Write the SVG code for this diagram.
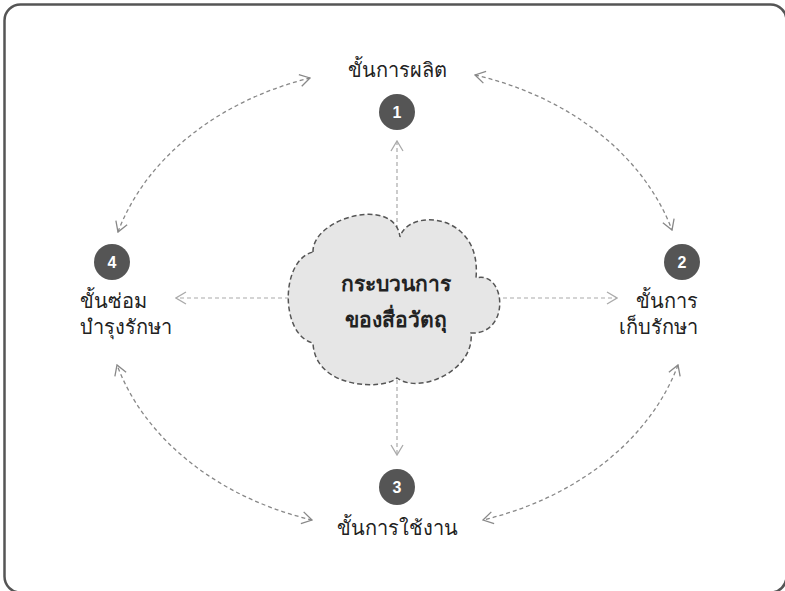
<svg xmlns="http://www.w3.org/2000/svg" width="785" height="591" viewBox="0 0 785 591">
<style>
.lbl{font-family:"Noto Sans","DejaVu Sans",sans-serif;font-size:20px;fill:#222}
.num{font-family:"Liberation Sans",Arial,sans-serif;font-size:16px;font-weight:bold;fill:#fff;text-anchor:middle}
.badge{fill:#555}
.curve{fill:none;stroke:#888;stroke-width:1.3;stroke-dasharray:4 3}
.spoke{fill:none;stroke:#aaa;stroke-width:1.2;stroke-dasharray:4 3}
.title{font-family:"Noto Sans","DejaVu Sans",sans-serif;font-size:21px;font-weight:bold;fill:#222;text-anchor:middle}
</style>
<defs>
<marker id="ah" viewBox="0 0 12 14" refX="11" refY="7" markerWidth="12" markerHeight="14" markerUnits="userSpaceOnUse" orient="auto-start-reverse">
<path d="M1,1 L11,7 L1,13" fill="none" stroke="#888" stroke-width="1.3"/>
</marker>
<marker id="ahl" viewBox="0 0 12 14" refX="11" refY="7" markerWidth="12" markerHeight="14" markerUnits="userSpaceOnUse" orient="auto">
<path d="M1,1 L11,7 L1,13" fill="none" stroke="#aaa" stroke-width="1.3"/>
</marker>
</defs>
<rect x="4.5" y="4.5" width="782" height="588" rx="16" fill="#fff" stroke="#555" stroke-width="2.5"/>
<g id="connectors">
<path class="curve" d="M118,232 A291 230 0 0 1 310,78" marker-start="url(#ah)" marker-end="url(#ah)"/>
<path class="curve" d="M475,75 A291 230 0 0 1 672,230" marker-start="url(#ah)" marker-end="url(#ah)"/>
<path class="curve" d="M678,365 A291 230 0 0 1 483,520" marker-start="url(#ah)" marker-end="url(#ah)"/>
<path class="curve" d="M312,520 A291 230 0 0 1 117,365" marker-start="url(#ah)" marker-end="url(#ah)"/>
<path class="spoke" d="M397,236 L397,141" marker-end="url(#ahl)"/>
<path class="spoke" d="M289,298 L176,298" marker-end="url(#ahl)"/>
<path class="spoke" d="M503,298 L617,298" marker-end="url(#ahl)"/>
<path class="spoke" d="M397,380 L397,455" marker-end="url(#ahl)"/>
</g>
<g id="center">
<path d="M313,252 C312,218 395,195 400,237 C408,208 482,212 476,278 C506,270 511,335 471,333 C475,370 420,395 397,378 C385,390 315,390 313,343 C280,335 280,260 313,252 Z" fill="#e6e6e6" stroke="#555" stroke-width="1.5" stroke-dasharray="5 3"/>
<text class="title" x="396" y="291">กระบวนการ</text>
<text class="title" x="396" y="327">ของสื่อวัตถุ</text>
</g>
<g id="node1">
<text class="lbl" x="397" y="77" text-anchor="middle">ขั้นการผลิต</text>
<circle class="badge" cx="397" cy="112" r="18"/>
<text class="num" x="397" y="118">1</text>
</g>
<g id="node2">
<circle class="badge" cx="682" cy="262" r="18"/>
<text class="num" x="682" y="268">2</text>
<text class="lbl" x="698" y="308" text-anchor="end">ขั้นการ</text>
<text class="lbl" x="698" y="334" text-anchor="end">เก็บรักษา</text>
</g>
<g id="node3">
<circle class="badge" cx="397" cy="487" r="18"/>
<text class="num" x="397" y="493">3</text>
<text class="lbl" x="397" y="535" text-anchor="middle">ขั้นการใช้งาน</text>
</g>
<g id="node4">
<circle class="badge" cx="112" cy="262" r="18"/>
<text class="num" x="112" y="268">4</text>
<text class="lbl" x="80" y="308">ขั้นซ่อม</text>
<text class="lbl" x="80" y="334">บำรุงรักษา</text>
</g>
</svg>
